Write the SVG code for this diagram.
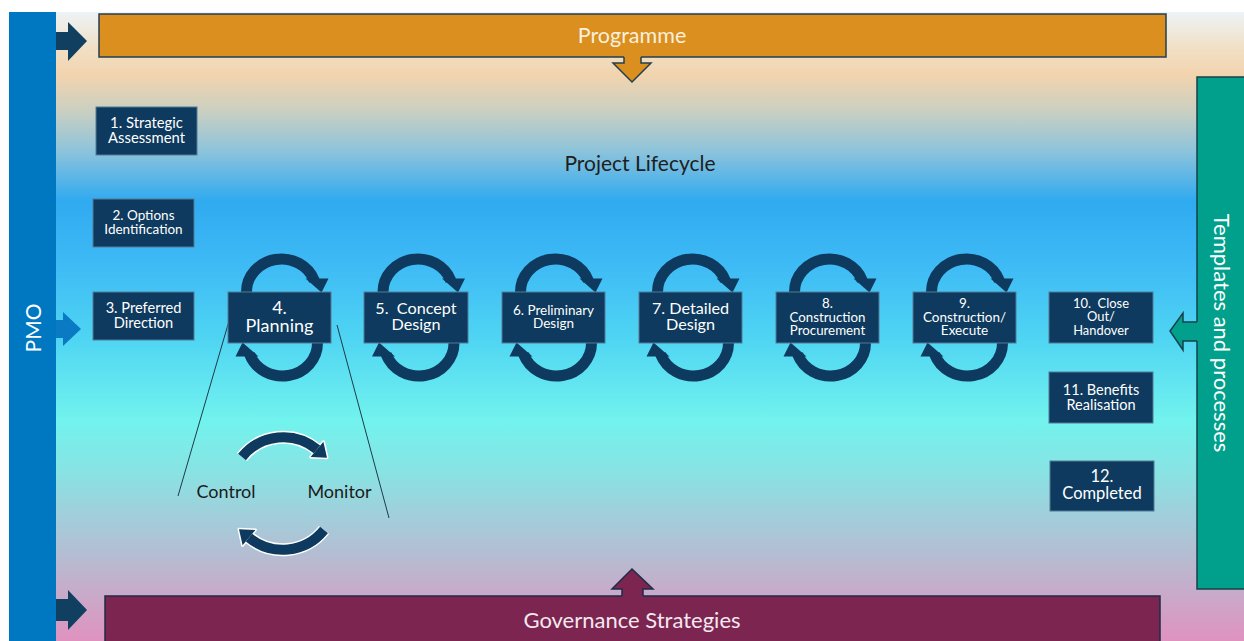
<svg xmlns="http://www.w3.org/2000/svg" width="1244" height="641" viewBox="0 0 1244 641">
<style>
text{font-family:Lato,"Open Sans","Liberation Sans",sans-serif;}
.box{fill:#0D3A5E;stroke:#557A96;stroke-width:1;}
.bt{fill:#FFFFFF;text-anchor:middle;}
.navy{fill:#0D3A5E;}
.arc{fill:none;stroke:#0D3A5E;stroke-width:11;}
.cm{fill:none;stroke:#0D3A5E;stroke-width:10;}
.cmw{fill:none;stroke:#FFFFFF;stroke-width:13;}
.ln{stroke:#1F3A4A;stroke-width:1;fill:none;}
</style>
<defs>
<linearGradient id="bg" x1="0" y1="0" x2="0" y2="1">
<stop offset="0" stop-color="#EDF3F7"/>
<stop offset="0.06" stop-color="#F1DFC3"/>
<stop offset="0.10" stop-color="#F2D4AE"/>
<stop offset="0.155" stop-color="#CCD0C0"/>
<stop offset="0.22" stop-color="#8EC4DB"/>
<stop offset="0.30" stop-color="#30AAF0"/>
<stop offset="0.395" stop-color="#3DB9F5"/>
<stop offset="0.52" stop-color="#4FD5F3"/>
<stop offset="0.65" stop-color="#72F3EE"/>
<stop offset="0.73" stop-color="#88E3E3"/>
<stop offset="0.81" stop-color="#A4CCDA"/>
<stop offset="0.89" stop-color="#BDB5CE"/>
<stop offset="1" stop-color="#E092BF"/>
</linearGradient>
<g id="half">
<path class="arc" d="M -33 -25.5 A 35 33 0 0 1 34.9 -36.8"/>
<polygon class="navy" points="26,-39 49,-39 42,-25"/>
</g>
<g id="loop">
<use href="#half"/>
<use href="#half" transform="rotate(180 2.5 0)"/>
</g>
</defs>

<rect x="0" y="0" width="1244" height="641" fill="#FFFFFF"/>
<rect x="56" y="12" width="1188" height="629" fill="url(#bg)"/>

<g id="pmo">
<rect x="9" y="12" width="47" height="629" fill="#0077C1"/>
<text transform="translate(41,328) rotate(-90)" font-size="21" fill="#FFFFFF" text-anchor="middle">PMO</text>
</g>

<g id="programme">
<rect x="99" y="14" width="1067" height="43" fill="#DA8F1E" stroke="#233F4F" stroke-width="1.5"/>
<text x="632" y="43" font-size="21.5" fill="#FBF0DE" text-anchor="middle">Programme</text>
</g>

<g id="governance">
<rect x="105" y="596" width="1055" height="50" fill="#7B2550" stroke="#1D2C48" stroke-width="1.5"/>
<text x="632" y="628" font-size="22" fill="#F5E8EF" text-anchor="middle">Governance Strategies</text>
</g>

<g id="templates">
<rect x="1197" y="77" width="50" height="512" fill="#00A08C" stroke="#17404A" stroke-width="1.5"/>
<text transform="translate(1214,333) rotate(90)" font-size="22" fill="#FFFFFF" text-anchor="middle">Templates and processes</text>
</g>

<g id="title">
<text x="640" y="171" font-size="21" fill="#1E1E1E" text-anchor="middle">Project Lifecycle</text>
</g>

<g id="connectors">
<polygon points="56,32 68,32 68,22 87,41 68,61 68,50 56,50" fill="#103F60"/>
<polygon points="56,320 63,320 63,312 81,329 63,346 63,338 56,338" fill="#0A7AC4"/>
<polygon points="56,599 68,599 68,590 87,610 68,630 68,621 56,621" fill="#103F60"/>
<polygon points="624,55 641,55 641,63 651,63 632,82 613,63 624,63" fill="#DA8F1E"/>
<polyline points="624,57 624,63 613,63 632,82 651,63 641,63 641,57" fill="none" stroke="#233F4F" stroke-width="1.5"/>
<polygon points="622,598 643,598 643,589 653,589 632,569 612,589 622,589" fill="#7B2550"/>
<polyline points="622,596 622,589 612,589 632,569 653,589 643,589 643,596" fill="none" stroke="#1D2C48" stroke-width="1.5"/>
<polygon points="1199,322 1183,322 1183,313 1170,331 1183,350 1183,341 1199,341" fill="#00A08C"/>
<polyline points="1197,322 1183,322 1183,313 1170,331 1183,350 1183,341 1197,341" fill="none" stroke="#17404A" stroke-width="1.5"/>
<line class="ln" x1="229" y1="321" x2="178" y2="496"/>
<line class="ln" x1="337" y1="325" x2="389" y2="518"/>
<use href="#loop" transform="translate(279.5 317.5)"/>
<use href="#loop" transform="translate(416 317.5)"/>
<use href="#loop" transform="translate(553.5 317.5)"/>
<use href="#loop" transform="translate(690.5 317.5)"/>
<use href="#loop" transform="translate(827.5 317.5)"/>
<use href="#loop" transform="translate(964.5 317.5)"/>
<g id="cm-loop">
<path class="cmw" d="M 242 457 A 53 53 0 0 1 317 449.4"/>
<polygon points="323.4,441.7 310.6,457.1 327,457.8" fill="#FFFFFF" stroke="#FFFFFF" stroke-width="3" stroke-linejoin="round"/>
<path class="cmw" d="M 324 530 A 53 53 0 0 1 249 537.6"/>
<polygon points="242.6,545.3 255.4,529.9 239,529.2" fill="#FFFFFF" stroke="#FFFFFF" stroke-width="3" stroke-linejoin="round"/>
<path class="cm" d="M 242 457 A 53 53 0 0 1 317 449.4"/>
<polygon class="navy" points="323.4,441.7 310.6,457.1 327,457.8"/>
<path class="cm" d="M 324 530 A 53 53 0 0 1 249 537.6"/>
<polygon class="navy" points="242.6,545.3 255.4,529.9 239,529.2"/>
</g>
</g>

<g id="n1"><rect class="box" x="96" y="107" width="101" height="48"/>
<text class="bt" font-size="14.8"><tspan x="146.5" y="127.5">1. Strategic</tspan><tspan x="146.5" y="143">Assessment</tspan></text></g>
<g id="n2"><rect class="box" x="93" y="199" width="101" height="48"/>
<text class="bt" font-size="13.5"><tspan x="143.5" y="219.5">2. Options</tspan><tspan x="143.5" y="234">Identification</tspan></text></g>
<g id="n3"><rect class="box" x="93" y="292" width="101" height="48"/>
<text class="bt" font-size="14.6"><tspan x="143.5" y="312.5">3. Preferred</tspan><tspan x="143.5" y="328">Direction</tspan></text></g>
<g id="n4"><rect class="box" x="228" y="292" width="103" height="51"/>
<text class="bt" font-size="18"><tspan x="279.5" y="314">4.</tspan><tspan x="279.5" y="332">Planning</tspan></text></g>
<g id="n5"><rect class="box" x="364" y="292" width="104" height="51"/>
<text class="bt" font-size="16.2" xml:space="preserve"><tspan x="416" y="313.5">5.  Concept</tspan><tspan x="416" y="330">Design</tspan></text></g>
<g id="n6"><rect class="box" x="502" y="292" width="103" height="51"/>
<text class="bt" font-size="13.5"><tspan x="553.5" y="314.5">6. Preliminary</tspan><tspan x="553.5" y="328">Design</tspan></text></g>
<g id="n7"><rect class="box" x="639" y="292" width="103" height="51"/>
<text class="bt" font-size="16.2"><tspan x="690.5" y="313.5">7. Detailed</tspan><tspan x="690.5" y="330">Design</tspan></text></g>
<g id="n8"><rect class="box" x="776" y="292" width="103" height="51"/>
<text class="bt" font-size="13.3"><tspan x="827.5" y="307.5">8.</tspan><tspan x="827.5" y="321.5">Construction</tspan><tspan x="827.5" y="335">Procurement</tspan></text></g>
<g id="n9"><rect class="box" x="913" y="292" width="103" height="51"/>
<text class="bt" font-size="13.5"><tspan x="964.5" y="307.5">9.</tspan><tspan x="964.5" y="321.5">Construction/</tspan><tspan x="964.5" y="335">Execute</tspan></text></g>
<g id="n10"><rect class="box" x="1049" y="292" width="104" height="51"/>
<text class="bt" font-size="12.9" xml:space="preserve"><tspan x="1101" y="307.5">10.  Close</tspan><tspan x="1101" y="321">Out/</tspan><tspan x="1101" y="335">Handover</tspan></text></g>
<g id="n11"><rect class="box" x="1049" y="372" width="104" height="51"/>
<text class="bt" font-size="14.5"><tspan x="1101" y="394.5">11. Benefits</tspan><tspan x="1101" y="410">Realisation</tspan></text></g>
<g id="n12"><rect class="box" x="1050" y="461" width="104" height="50"/>
<text class="bt" font-size="16.5"><tspan x="1102" y="481.5">12.</tspan><tspan x="1102" y="498.5">Completed</tspan></text></g>

<g id="labels">
<text x="226" y="498" font-size="18" fill="#1B1B1B" text-anchor="middle">Control</text>
<text x="339.5" y="498" font-size="18" fill="#1B1B1B" text-anchor="middle">Monitor</text>
</g>
</svg>
